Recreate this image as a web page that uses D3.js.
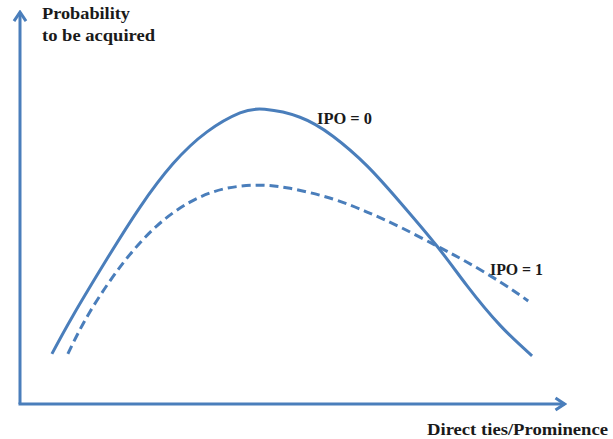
<!DOCTYPE html>
<html>
<head>
<meta charset="utf-8">
<script src="https://cdn.jsdelivr.net/npm/d3@7"></script>
<style>
  html, body { margin: 0; padding: 0; background: #fff; }
  svg { display: block; }
  text { font-family: "Liberation Serif", "DejaVu Serif", serif; font-weight: bold; fill: #1a1a1a; }
</style>
</head>
<body>
<svg id="chart" width="613" height="439"></svg>
<script>
// Data (conceptual units, 0-100 on both axes)
const ipo0X = [5.8, 9.6, 15.8, 21.8, 27.8, 34.0, 40.0, 44.5, 50.9, 56.9, 63.1, 69.1, 75.8, 81.3, 87.3, 93.1];
const ipo0Y = [12.7, 22.3, 36.7, 49.8, 60.8, 68.9, 73.7, 74.6, 72.6, 67.8, 60.3, 51.1, 40.0, 29.9, 19.9, 12.2];
const ipo1X = [8.7, 12.7, 18.7, 24.9, 30.9, 36.9, 43.1, 49.1, 56.9, 63.1, 69.1, 75.8, 81.3, 87.3, 92.4];
const ipo1Y = [12.7, 23.3, 35.6, 45.1, 51.1, 54.4, 55.4, 54.6, 51.9, 48.6, 44.8, 40.0, 35.9, 30.9, 26.1];
const seriesLabels = ["IPO = 0", "IPO = 1"];
const yAxisLabel = ["Probability", "to be acquired"];
const xAxisLabel = "Direct ties/Prominence";

const svg = d3.select("#chart");
const blue = "#4a7ebb";

const x = d3.scaleLinear().domain([0, 100]).range([20, 570]);
const y = d3.scaleLinear().domain([0, 100]).range([404, 9]);

// arrow marker
const defs = svg.append("defs");
defs.append("marker")
  .attr("id", "arrow")
  .attr("viewBox", "-12 -8 14 16")
  .attr("refX", 0).attr("refY", 0)
  .attr("markerWidth", 14).attr("markerHeight", 16)
  .attr("markerUnits", "userSpaceOnUse")
  .attr("orient", "auto")
  .append("path")
  .attr("d", "M-9,-6 L0,0 L-9,6")
  .attr("fill", "none")
  .attr("stroke", blue)
  .attr("stroke-width", 3)
  .attr("stroke-linejoin", "miter");

// axes
svg.append("line")
  .attr("x1", x(0)).attr("y1", y(0))
  .attr("x2", x(0)).attr("y2", y(99.2))
  .attr("stroke", blue).attr("stroke-width", 3)
  .attr("marker-end", "url(#arrow)");
svg.append("line")
  .attr("x1", x(0) - 1.5).attr("y1", y(0))
  .attr("x2", x(99)).attr("y2", y(0))
  .attr("stroke", blue).attr("stroke-width", 3)
  .attr("marker-end", "url(#arrow)");

const line = d3.line()
  .x(d => x(d[0]))
  .y(d => y(d[1]))
  .curve(d3.curveNatural);

const ipo0 = ipo0X.map((v, i) => [v, ipo0Y[i]]);
const ipo1 = ipo1X.map((v, i) => [v, ipo1Y[i]]);

svg.append("path")
  .datum(ipo1)
  .attr("d", line)
  .attr("fill", "none")
  .attr("stroke", blue)
  .attr("stroke-width", 3)
  .attr("stroke-dasharray", "9,5");

svg.append("path")
  .datum(ipo0)
  .attr("d", line)
  .attr("fill", "none")
  .attr("stroke", blue)
  .attr("stroke-width", 3);

// labels
svg.append("text").attr("x", 42).attr("y", 19)
  .attr("font-size", 16).attr("textLength", 88).attr("lengthAdjust", "spacingAndGlyphs")
  .text(yAxisLabel[0]);
svg.append("text").attr("x", 42).attr("y", 41)
  .attr("font-size", 16).attr("textLength", 113).attr("lengthAdjust", "spacingAndGlyphs")
  .text(yAxisLabel[1]);
svg.append("text").attr("x", 427).attr("y", 435)
  .attr("font-size", 16).attr("textLength", 181).attr("lengthAdjust", "spacingAndGlyphs")
  .text(xAxisLabel);
svg.append("text").attr("x", 317).attr("y", 124)
  .attr("font-size", 16).attr("textLength", 55).attr("lengthAdjust", "spacingAndGlyphs")
  .text(seriesLabels[0]);
svg.append("text").attr("x", 490).attr("y", 275)
  .attr("font-size", 16).attr("textLength", 53).attr("lengthAdjust", "spacingAndGlyphs")
  .text(seriesLabels[1]);
</script>
</body>
</html>
